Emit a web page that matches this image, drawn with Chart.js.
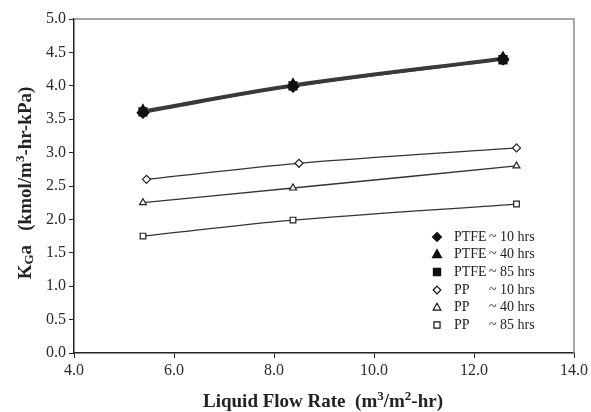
<!DOCTYPE html>
<html>
<head>
<meta charset="utf-8">
<script src="https://cdn.jsdelivr.net/npm/chart.js@4.4.0/dist/chart.umd.min.js"></script>
<style>
  html, body { margin: 0; padding: 0; background: #fff; }
  #wrap { width: 591px; height: 412px; position: relative; }
</style>
</head>
<body>
<div id="wrap"><canvas id="chart"></canvas></div>
<script>
// liquid flow rate, m3/m2-hr
const ptfeFlow = [5.38, 8.38, 12.58];
const ppFlow = [5.45, 8.5, 12.85];
const ppFlowLow = [5.38, 8.38, 12.85];

// KGa values
const ptfe10 = [3.60, 3.99, 4.40];
const ptfe40 = [3.63, 4.02, 4.42];
const ptfe85 = [3.61, 4.00, 4.39];
const pp10 = [2.60, 2.84, 3.07];
const pp40 = [2.25, 2.47, 2.80];
const pp85 = [1.75, 1.99, 2.23];

const legendMaterial = ['PTFE', 'PTFE', 'PTFE', 'PP', 'PP', 'PP'];
const legendTime = ['~ 10 hrs', '~ 40 hrs', '~ 85 hrs', '~ 10 hrs', '~ 40 hrs', '~ 85 hrs'];

const serif = '"Liberation Serif", "DejaVu Serif", serif';

function pts(xs, ys) {
    return xs.map((x, i) => ({ x: x, y: ys[i] }));
}

function ptfeSet(label, ys, style) {
    return {
        label: label,
        data: pts(ptfeFlow, ys),
        borderColor: '#3a3a3a',
        borderWidth: 2.2,
        pointStyle: style,
        pointRadius: 5,
        pointBackgroundColor: '#111',
        pointBorderColor: '#111',
        tension: 0.35
    };
}

function ppSet(label, xs, ys, style) {
    return {
        label: label,
        data: pts(xs, ys),
        borderColor: '#333',
        borderWidth: 1.3,
        pointStyle: style,
        pointRadius: 4,
        pointBackgroundColor: '#fff',
        pointBorderColor: '#222',
        pointBorderWidth: 1.2,
        tension: 0.35
    };
}

const datasets = [
    ptfeSet('PTFE ~ 10 hrs', ptfe10, 'rectRot'),
    ptfeSet('PTFE ~ 40 hrs', ptfe40, 'triangle'),
    ptfeSet('PTFE ~ 85 hrs', ptfe85, 'rect'),
    ppSet('PP ~ 10 hrs', ppFlow, pp10, 'rectRot'),
    ppSet('PP ~ 40 hrs', ppFlowLow, pp40, 'triangle'),
    ppSet('PP ~ 85 hrs', ppFlowLow, pp85, 'rect')
];

// draws text pieces with super/subscripts, returns width
function drawParts(ctx, parts, x, y, draw) {
    const base = ctx.font;
    const size = parseFloat(base.match(/(\d+(\.\d+)?)px/)[1]);
    let cx = x;
    parts.forEach(p => {
        if (p[1] === 0) {
            ctx.font = base;
            if (draw) ctx.fillText(p[0], cx, y);
        } else {
            ctx.font = base.replace(size + 'px', Math.round(size * 0.68) + 'px');
            const dy = p[1] > 0 ? -size * 0.38 : size * 0.1;
            if (draw) ctx.fillText(p[0], cx, y + dy);
        }
        cx += ctx.measureText(p[0]).width;
    });
    ctx.font = base;
    return cx - x;
}

// frame, titles and legend drawn on top
const extras = {
    id: 'extras',
    afterDraw(chart) {
        const ctx = chart.ctx;
        const a = chart.chartArea;
        ctx.save();

        // grey top/right frame
        ctx.strokeStyle = '#8a8a8a';
        ctx.lineWidth = 1.5;
        ctx.beginPath();
        ctx.moveTo(a.left, a.top);
        ctx.lineTo(a.right, a.top);
        ctx.lineTo(a.right, a.bottom);
        ctx.stroke();

        // x title
        ctx.fillStyle = '#222';
        ctx.textAlign = 'left';
        ctx.textBaseline = 'alphabetic';
        ctx.font = 'bold 19px ' + serif;
        let parts = [['Liquid Flow Rate  (m', 0], ['3', 1], ['/m', 0], ['2', 1], ['-hr)', 0]];
        const w = drawParts(ctx, parts, 0, 0, false);
        drawParts(ctx, parts, 323 - w / 2, 407, true);

        // y title
        ctx.translate(31, 183);
        ctx.rotate(-Math.PI / 2);
        ctx.font = 'bold 19px ' + serif;
        parts = [['K', 0], ['G', -1], ['a', 0], ['   (kmol/m', 0], ['3', 1], ['-hr-kPa)', 0]];
        const wy = drawParts(ctx, parts, 0, 0, false);
        drawParts(ctx, parts, -wy / 2, 0, true);
        ctx.setTransform(1, 0, 0, 1, 0, 0);

        // legend
        const rowY = [237, 254, 272, 290, 307, 325];
        ctx.font = '14px ' + serif;
        ctx.textBaseline = 'middle';
        chart.data.datasets.forEach((ds, i) => {
            const st = ds.pointStyle;
            const r = i < 3 ? 4.5 : 3.8;
            const cx = 437, cy = rowY[i];
            ctx.fillStyle = i < 3 ? '#111' : '#fff';
            ctx.strokeStyle = '#111';
            ctx.lineWidth = 1.2;
            ctx.beginPath();
            if (st === 'rectRot') {
                ctx.moveTo(cx, cy - r); ctx.lineTo(cx + r, cy); ctx.lineTo(cx, cy + r); ctx.lineTo(cx - r, cy);
            } else if (st === 'triangle') {
                ctx.moveTo(cx, cy - r); ctx.lineTo(cx + r, cy + r * 0.8); ctx.lineTo(cx - r, cy + r * 0.8);
            } else {
                ctx.rect(cx - r * 0.8, cy - r * 0.8, r * 1.6, r * 1.6);
            }
            ctx.closePath();
            ctx.fill();
            ctx.stroke();
            ctx.fillStyle = '#222';
            ctx.fillText(legendMaterial[i], 454, rowY[i]);
            ctx.fillText(legendTime[i], 489, rowY[i]);
        });
        ctx.restore();
    }
};

new Chart(document.getElementById('chart'), {
    type: 'line',
    data: { datasets: datasets },
    options: {
        responsive: true,
        maintainAspectRatio: false,
        animation: false,
        layout: { padding: { top: 19, right: 17, left: 0, bottom: 0 } },
        plugins: {
            legend: { display: false },
            tooltip: { enabled: false }
        },
        scales: {
            x: {
                type: 'linear',
                min: 4,
                max: 14,
                afterFit(scale) { scale.height = 59; },
                ticks: {
                    stepSize: 2,
                    color: '#2a2a2a',
                    font: { family: serif, size: 16 },
                    padding: 3,
                    maxRotation: 0,
                    callback: v => v.toFixed(1)
                },
                grid: { drawOnChartArea: false, drawTicks: true, tickLength: 5, color: '#222' },
                border: { color: '#222', width: 1.5 }
            },
            y: {
                min: 0,
                max: 5,
                afterFit(scale) { scale.width = 74; },
                ticks: {
                    stepSize: 0.5,
                    color: '#2a2a2a',
                    font: { family: serif, size: 16 },
                    padding: 3,
                    callback: v => v.toFixed(1)
                },
                grid: { drawOnChartArea: false, drawTicks: true, tickLength: 5, color: '#222' },
                border: { color: '#222', width: 1.5 }
            }
        }
    },
    plugins: [extras]
});
</script>
</body>
</html>
